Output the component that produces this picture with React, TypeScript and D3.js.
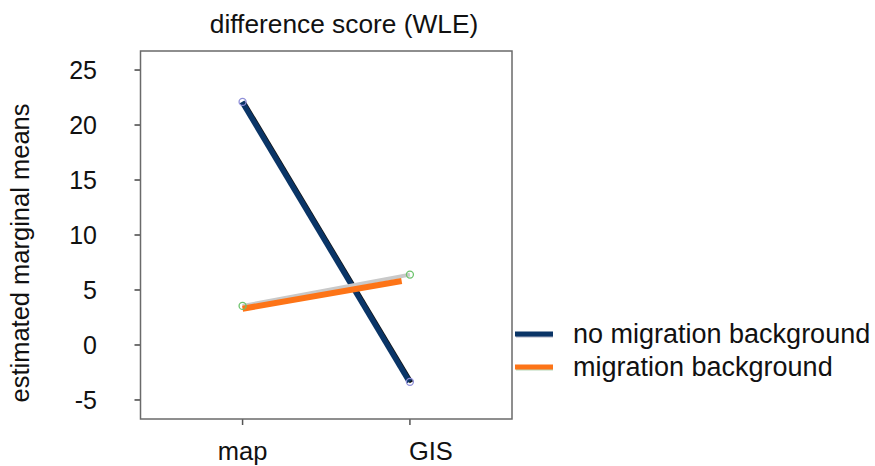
import * as d3 from 'd3';

const conditions = ['map', 'GIS'];
const noMigration = [22.1, -3.35];
const migration = [3.55, 6.4];
// the thick coloured strokes sit slightly off the estimated points
const migrationOverlay = [3.3, 5.95];
const yTicks = [-5, 0, 5, 10, 15, 20, 25];
const legendLabels = ['no migration background', 'migration background'];

const W = 875;
const H = 466;
const FONT = '"Liberation Sans", Arial, Helvetica, sans-serif';
const BLUE = '#0a3567';
const ORANGE = '#fd7417';

export default function App() {
  const left = 140.5;
  const right = 512;
  const top = 51;
  const bottom = 419;

  const x = d3.scalePoint<string>().domain(conditions).range([left, right]).padding(0.61);
  const y = d3.scaleLinear().domain([-6.73, 26.73]).range([bottom, top]);

  const line = d3
    .line<number>()
    .x((_, i) => x(conditions[i]) as number)
    .y((d) => y(d));

  return (
    <svg
      width={W}
      height={H}
      style={{ position: 'absolute', left: 0, top: 0, background: '#fff' }}
      fontFamily={FONT}
    >
      {/* title */}
      <text x={344} y={33} textAnchor="middle" fontSize={26.3} fill="#111">
        difference score (WLE)
      </text>

      {/* y axis title */}
      <text
        transform={`translate(29,${(top + bottom) / 2 + 18}) rotate(-90)`}
        textAnchor="middle"
        fontSize={25.5}
        fill="#111"
      >
        estimated marginal means
      </text>

      {/* y ticks */}
      {yTicks.map((t) => (
        <g key={t}>
          <line x1={left - 6} x2={left} y1={y(t)} y2={y(t)} stroke="#444" strokeWidth={1.5} />
          <text x={97} y={y(t) + 9} textAnchor="end" fontSize={25} fill="#111">
            {t}
          </text>
        </g>
      ))}

      {/* x ticks (the GIS label sits right of its tick in the original) */}
      {conditions.map((c, i) => (
        <g key={c}>
          <line x1={x(c)} x2={x(c)} y1={bottom} y2={bottom + 6} stroke="#555" strokeWidth={1.5} />
          <text x={(x(c) as number) + (i === 1 ? 21 : 0)} y={460} textAnchor="middle" fontSize={25.5} fill="#111">
            {c}
          </text>
        </g>
      ))}

      {/* no migration background */}
      <path d={line(noMigration) ?? ''} fill="none" stroke="#111" strokeWidth={4} transform="translate(1.5,0.5)" />
      <path d={line(noMigration) ?? ''} fill="none" stroke={BLUE} strokeWidth={5.5} transform="translate(-0.5,0)" />
      {noMigration.map((v, i) => (
        <circle key={i} cx={x(conditions[i])} cy={y(v)} r={3.5} fill="none" stroke="#8f8fd8" strokeWidth={1.3} />
      ))}

      {/* migration background */}
      <path d={line(migration) ?? ''} fill="none" stroke="#c9c9c9" strokeWidth={4} />
      <path
        d={line(migrationOverlay) ?? ''}
        fill="none"
        stroke={ORANGE}
        strokeWidth={6}
        strokeDasharray={`${(x('GIS')! - x('map')!) * 0.965} 1000`}
      />
      {migration.map((v, i) => (
        <circle key={i} cx={x(conditions[i])} cy={y(v)} r={3.5} fill="none" stroke="#6cc36c" strokeWidth={1.3} />
      ))}

      {/* plot box */}
      <rect x={left} y={top} width={right - left} height={bottom - top} fill="none" stroke="#6a6a6a" strokeWidth={1.5} />

      {/* legend */}
      {legendLabels.map((label, i) => {
        const ly = 334 + i * 33;
        return (
          <g key={label}>
            <line x1={516} x2={553} y1={ly + 2} y2={ly + 2} stroke={i === 0 ? '#aab0c4' : '#b8d8b8'} strokeWidth={3} />
            <line x1={515} x2={553} y1={ly} y2={ly} stroke={i === 0 ? BLUE : ORANGE} strokeWidth={5} />
            <text x={573} y={ly + 9} fontSize={27} fill="#111">
              {label}
            </text>
          </g>
        );
      })}
    </svg>
  );
}
